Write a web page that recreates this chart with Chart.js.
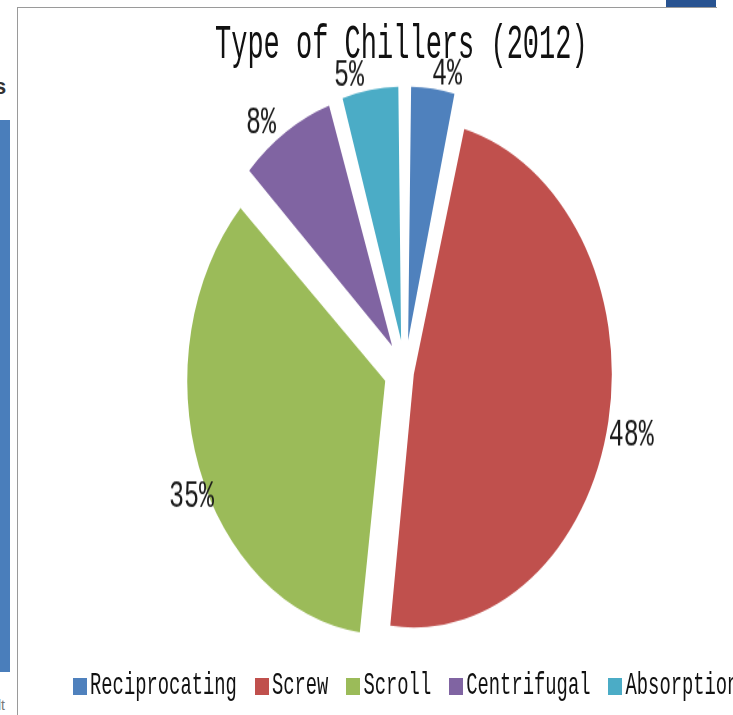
<!DOCTYPE html>
<html>
<head>
<meta charset="utf-8">
<script src="https://cdn.jsdelivr.net/npm/chart.js@4.4.1/dist/chart.umd.min.js"></script>
<style>
  html, body { margin: 0; padding: 0; background: #fff; }
  #page { position: relative; width: 733px; height: 715px; overflow: hidden; background: #fff; }
  .abs { position: absolute; }
  #pieWrap { position: absolute; left: 0; top: 0; transform-origin: 0 0; }
  #title {
    left: 215px; top: 23px;
    font: 27px/27px "Liberation Mono", monospace; color: #111;
    white-space: pre; transform-origin: 0 0; transform: scaleY(1.77);
  }
  #legend { left: 73px; top: 671px; display: flex; white-space: pre; }
  .item { display: flex; align-items: flex-start; margin-right: 18px; }
  .box { width: 14px; height: 17px; margin-top: 7px; margin-right: 3px; }
  .txt {
    display: inline-block; font: 18.83px/19px "Liberation Mono", monospace; color: #111;
    transform-origin: 0 0; transform: scaleY(1.63);
  }
</style>
</head>
<body>
<div id="page">
  <!-- neighbouring pieces of the slide around the chart frame -->
  <div class="abs" style="left:0;top:120px;width:10px;height:552px;background:#4a7ebb"></div>
  <div class="abs" style="left:-6px;top:74px;font:bold 22px 'Liberation Sans';color:#333">s</div>
  <div class="abs" style="left:-2px;top:697px;font:14px 'Liberation Sans';color:#777">lt</div>
  <div class="abs" style="left:666px;top:0;width:50px;height:7px;background:#285391"></div>
  <div class="abs" style="left:17px;top:7px;width:700px;height:1px;background:#9a9a9a"></div>
  <div class="abs" style="left:17px;top:7px;width:1px;height:708px;background:#9a9a9a"></div>

  <div id="pieWrap"><canvas id="pie" width="733" height="559"></canvas></div>
  <div id="title" class="abs">Type of Chillers (2012)</div>
  <div id="legend" class="abs"></div>
</div>
<script>
const categories = ['Reciprocating', 'Screw', 'Scroll', 'Centrifugal', 'Absorption'];
const shares = [4, 48, 35, 8, 5];
const sliceColors = ['#4f81bd', '#c0504d', '#9bbb59', '#8064a2', '#4bacc6'];

// how far each slice is pulled out, in px
const explode = [25, 9, 21, 24, 25];
// label shift from the slice's outer edge point, in px
const labelShift = [[14, -16], [23, 11], [-7.5, 28], [-25, -10.5], [-21, -17]];

const STRETCH = 1.28;   // vertical squash of the whole pie
const RADIUS = 198;
const LABEL_SY = 1.54;  // extra height of the percent text

document.getElementById('pieWrap').style.transform = `scaleY(${STRETCH})`;

// legend
const legendEl = document.getElementById('legend');
categories.forEach((name, i) => {
  const item = document.createElement('div');
  item.className = 'item';
  item.innerHTML = `<span class="box" style="background:${sliceColors[i]}"></span><span class="txt">${name}</span>`;
  legendEl.appendChild(item);
});

// chart.js grows an offset arc's radius a little; pull it back so every slice has the same radius
const evenRadius = {
  id: 'evenRadius',
  afterDatasetUpdate(chart, args) {
    args.meta.data.forEach((arc, i) => {
      const fix = 1 - Math.sin(Math.min(Math.PI, arc.circumference));
      arc.outerRadius = RADIUS - explode[i] * fix;
    });
  }
};

const pctLabels = {
  id: 'pctLabels',
  afterDatasetsDraw(chart) {
    const ctx = chart.ctx;
    chart.getDatasetMeta(0).data.forEach((arc, i) => {
      const mid = (arc.startAngle + arc.endAngle) / 2;
      const r = RADIUS + explode[i];
      const x = arc.x + Math.cos(mid) * r + labelShift[i][0];
      const y = arc.y + Math.sin(mid) * r + labelShift[i][1] / STRETCH;
      ctx.save();
      ctx.translate(x, y);
      ctx.scale(1, LABEL_SY / STRETCH);
      ctx.font = '25px "Liberation Mono"';
      ctx.fillStyle = '#1a1a1a';
      ctx.textAlign = 'center';
      ctx.textBaseline = 'alphabetic';
      ctx.fillText(shares[i] + '%', 0, 8);
      ctx.restore();
    });
  }
};

new Chart(document.getElementById('pie'), {
  type: 'pie',
  data: {
    labels: categories,
    datasets: [{
      data: shares,
      backgroundColor: sliceColors,
      borderWidth: 0,
      offset: explode.map(d => d * 4)
    }]
  },
  options: {
    responsive: false,
    animation: false,
    events: [],
    radius: RADIUS,
    layout: { padding: { left: 100, right: 23, top: 30, bottom: 8 } },
    plugins: {
      legend: { display: false },
      title: { display: false },
      tooltip: { enabled: false }
    }
  },
  plugins: [evenRadius, pctLabels]
});
</script>
</body>
</html>
